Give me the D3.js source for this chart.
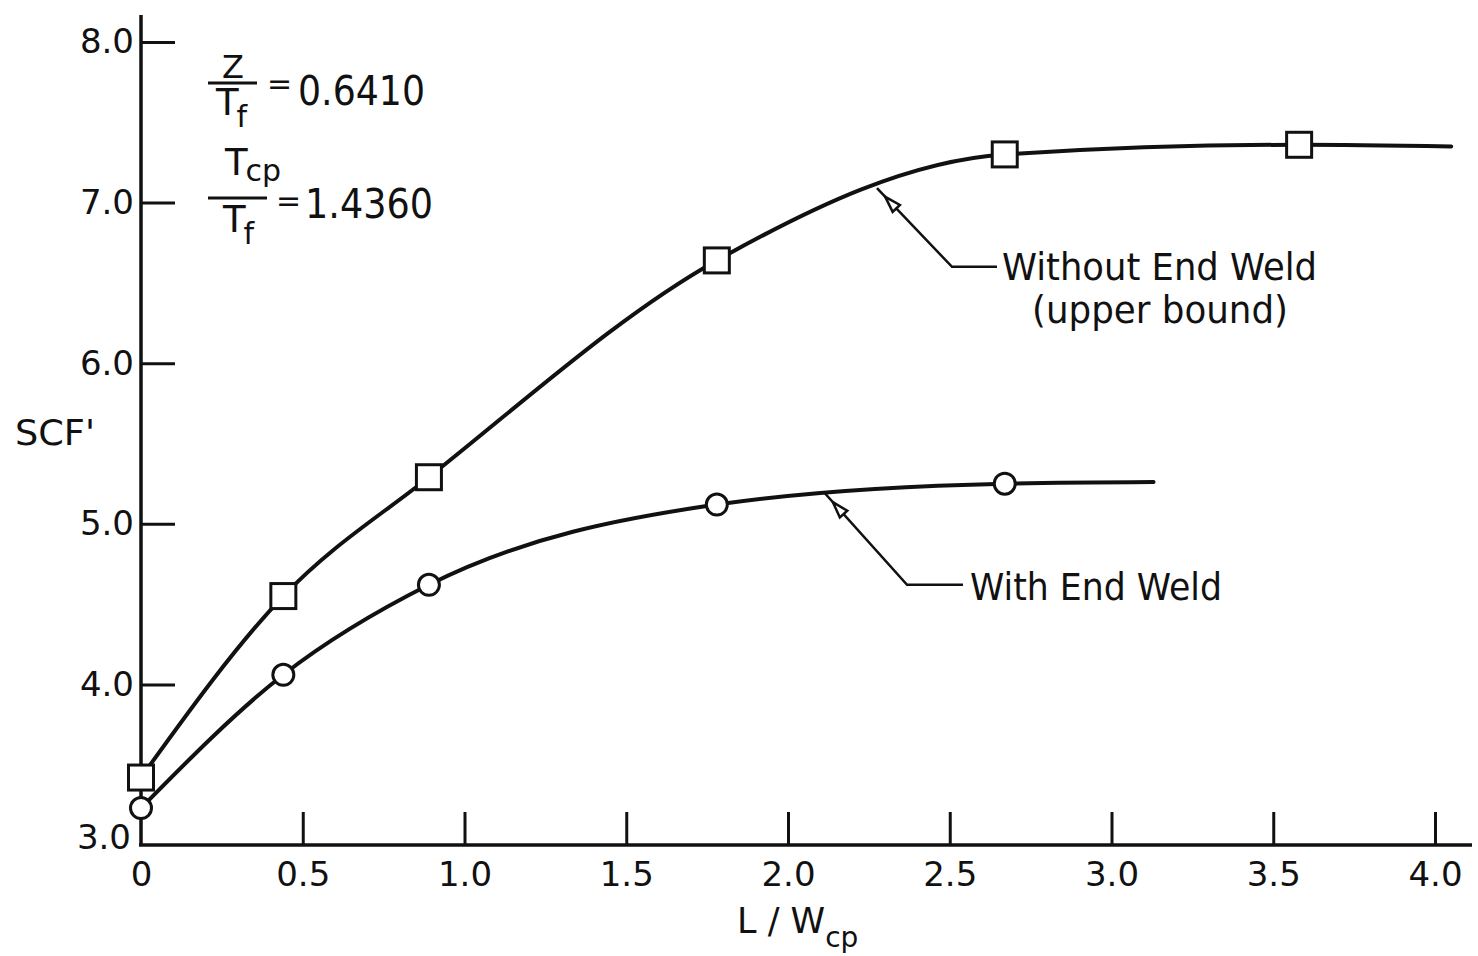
<!DOCTYPE html>
<html>
<head>
<meta charset="utf-8">
<script src="https://cdn.jsdelivr.net/npm/d3@7"></script>
<style>
  body { margin: 0; background: #fff; }
  svg { display: block; }
  text { font-family: "DejaVu Sans", sans-serif; fill: #111; }
</style>
</head>
<body>
<div id="chart"></div>
<script>
// values
var xTicks = [0, 0.5, 1.0, 1.5, 2.0, 2.5, 3.0, 3.5, 4.0];
var yTicks = [3.0, 4.0, 5.0, 6.0, 7.0, 8.0];

var ratioXs = [0, 0.44, 0.89, 1.78, 2.67, 3.58];
var withoutWeld = [3.42, 4.55, 5.29, 6.64, 7.30, 7.36];   // squares
var withWeld = [3.23, 4.06, 4.62, 5.12, 5.25];            // circles
var withoutWeldEnd = [4.05, 7.35];
var withWeldEnd = [3.13, 5.26];

// leader lines: point on curve, elbow, end of horizontal
var leaderUpper = [[2.275, 7.09], [2.507, 6.60], [2.646, 6.60]];
var leaderLower = [[2.114, 5.19], [2.368, 4.62], [2.541, 4.62]];

var W = 1478, H = 956;

var svg = d3.select("#chart").append("svg")
	.attr("width", W)
	.attr("height", H);

svg.append("rect").attr("width", W).attr("height", H).attr("fill", "#fff");

var x = d3.scaleLinear().domain([0, 4]).range([141, 1435]);
var y = d3.scaleLinear().domain([3, 8]).range([845, 42]);

// axis lines (longer than the tick range, as drawn)
svg.append("line")
	.attr("x1", x(0)).attr("x2", x(0))
	.attr("y1", 15).attr("y2", y(3))
	.attr("stroke", "#111").attr("stroke-width", 3.5);
svg.append("line")
	.attr("x1", x(0) - 2).attr("x2", 1472)
	.attr("y1", y(3)).attr("y2", y(3))
	.attr("stroke", "#111").attr("stroke-width", 3.5);

// x axis, ticks point up
var xAxis = svg.append("g")
	.attr("transform", "translate(0," + y(3) + ")")
	.call(d3.axisBottom(x)
		.tickValues(xTicks)
		.tickSizeInner(-33)
		.tickSizeOuter(0)
		.tickPadding(17)
		.tickFormat(function (d) { return d === 0 ? "0" : d3.format(".1f")(d); }));
xAxis.select(".domain").remove();
xAxis.selectAll(".tick line").attr("stroke", "#111").attr("stroke-width", 3);
xAxis.selectAll(".tick text")
	.attr("font-size", "34px")
	.style("font-family", "DejaVu Sans");
xAxis.selectAll(".tick").filter(function (d) { return d === 0; }).select("line").remove();

// y axis, ticks point right
var yAxis = svg.append("g")
	.attr("transform", "translate(" + x(0) + ",0)")
	.call(d3.axisLeft(y)
		.tickValues(yTicks)
		.tickSizeInner(-34)
		.tickSizeOuter(0)
		.tickPadding(7)
		.tickFormat(d3.format(".1f")));
yAxis.select(".domain").remove();
yAxis.selectAll(".tick line").attr("stroke", "#111").attr("stroke-width", 3);
yAxis.selectAll(".tick text")
	.attr("font-size", "34px")
	.style("font-family", "DejaVu Sans");
yAxis.selectAll(".tick").filter(function (d) { return d === 3; }).select("line").remove();
yAxis.selectAll(".tick").filter(function (d) { return d === 3; }).select("text")
	.attr("x", -10).attr("dy", "0.1em");

// curves
var upperPts = ratioXs.map(function (d, i) { return [d, withoutWeld[i]]; }).concat([withoutWeldEnd]);
var lowerPts = withWeld.map(function (d, i) { return [ratioXs[i], d]; }).concat([withWeldEnd]);

var line = d3.line()
	.x(function (d) { return x(d[0]); })
	.y(function (d) { return y(d[1]); })
	.curve(d3.curveMonotoneX);

svg.append("path").datum(upperPts)
	.attr("d", line).attr("fill", "none")
	.attr("stroke", "#111").attr("stroke-width", 4).attr("stroke-linecap", "round");
svg.append("path").datum(lowerPts)
	.attr("d", line).attr("fill", "none")
	.attr("stroke", "#111").attr("stroke-width", 4).attr("stroke-linecap", "round");

// markers
var sq = 25;
svg.selectAll("rect.sq").data(upperPts.slice(0, ratioXs.length)).enter()
	.append("rect").attr("class", "sq")
	.attr("x", function (d) { return x(d[0]) - sq / 2; })
	.attr("y", function (d) { return y(d[1]) - sq / 2; })
	.attr("width", sq).attr("height", sq)
	.attr("fill", "#fff").attr("stroke", "#111").attr("stroke-width", 3);

svg.selectAll("circle.ci").data(lowerPts.slice(0, withWeld.length)).enter()
	.append("circle").attr("class", "ci")
	.attr("cx", function (d) { return x(d[0]); })
	.attr("cy", function (d) { return y(d[1]); })
	.attr("r", 10.5)
	.attr("fill", "#fff").attr("stroke", "#111").attr("stroke-width", 3);

// leaders with small open arrowheads
function leader(pts) {
	var p = pts.map(function (d) { return [x(d[0]), y(d[1])]; });
	svg.append("path")
		.attr("d", d3.line()(p))
		.attr("fill", "none").attr("stroke", "#111").attr("stroke-width", 2.5);
	var dx = p[1][0] - p[0][0], dy = p[1][1] - p[0][1];
	var len = Math.sqrt(dx * dx + dy * dy);
	var ux = dx / len, uy = dy / len;
	var tip = [p[0][0] + ux * 12, p[0][1] + uy * 12];
	var base = [p[0][0] + ux * 28, p[0][1] + uy * 28];
	var hw = 5;
	var tri = [tip, [base[0] - uy * hw, base[1] + ux * hw], [base[0] + uy * hw, base[1] - ux * hw]];
	svg.append("path")
		.attr("d", d3.line()(tri) + "Z")
		.attr("fill", "#fff").attr("stroke", "#111").attr("stroke-width", 2.5);
}
leader(leaderUpper);
leader(leaderLower);

svg.append("text")
	.attr("x", 1002).attr("y", 280)
	.attr("font-size", "37px")
	.attr("textLength", 315).attr("lengthAdjust", "spacingAndGlyphs")
	.text("Without End Weld");
svg.append("text")
	.attr("x", 1032).attr("y", 323)
	.attr("font-size", "37px")
	.attr("textLength", 256).attr("lengthAdjust", "spacingAndGlyphs")
	.text("(upper bound)");
svg.append("text")
	.attr("x", 970).attr("y", 600)
	.attr("font-size", "37px")
	.attr("textLength", 252).attr("lengthAdjust", "spacingAndGlyphs")
	.text("With End Weld");

// axis titles
svg.append("text")
	.attr("x", 15).attr("y", 445)
	.attr("font-size", "35px")
	.attr("textLength", 80).attr("lengthAdjust", "spacingAndGlyphs")
	.text("SCF'");

var xl = svg.append("text")
	.attr("x", 737).attr("y", 933)
	.attr("font-size", "35px");
xl.append("tspan").text("L / W");
xl.append("tspan").attr("font-size", "28px").attr("dy", 14).text("cp");

// parameter block, top left
var eq = svg.append("g");
eq.append("text").attr("x", 233).attr("y", 78)
	.attr("font-size", "32px").attr("text-anchor", "middle").text("Z");
eq.append("line").attr("x1", 208).attr("x2", 257).attr("y1", 83).attr("y2", 83)
	.attr("stroke", "#111").attr("stroke-width", 3);
var t1 = eq.append("text").attr("x", 216).attr("y", 115).attr("font-size", "37px");
t1.append("tspan").text("T");
t1.append("tspan").attr("font-size", "30px").attr("dx", -2).attr("dy", 12).text("f");
eq.append("text").attr("x", 267).attr("y", 94).attr("font-size", "30px").text("=");
eq.append("text").attr("x", 298).attr("y", 105).attr("font-size", "41px")
	.attr("textLength", 127).attr("lengthAdjust", "spacingAndGlyphs").text("0.6410");

var t2 = eq.append("text").attr("x", 225).attr("y", 175).attr("font-size", "37px");
t2.append("tspan").text("T");
t2.append("tspan").attr("font-size", "30px").attr("dx", -2).attr("dy", 6).text("cp");
eq.append("line").attr("x1", 208).attr("x2", 267).attr("y1", 198).attr("y2", 198)
	.attr("stroke", "#111").attr("stroke-width", 3);
var t3 = eq.append("text").attr("x", 223).attr("y", 232).attr("font-size", "37px");
t3.append("tspan").text("T");
t3.append("tspan").attr("font-size", "30px").attr("dx", -2).attr("dy", 12).text("f");
eq.append("text").attr("x", 276).attr("y", 211).attr("font-size", "30px").text("=");
eq.append("text").attr("x", 305).attr("y", 218).attr("font-size", "41px")
	.attr("textLength", 128).attr("lengthAdjust", "spacingAndGlyphs").text("1.4360");
</script>
</body>
</html>
